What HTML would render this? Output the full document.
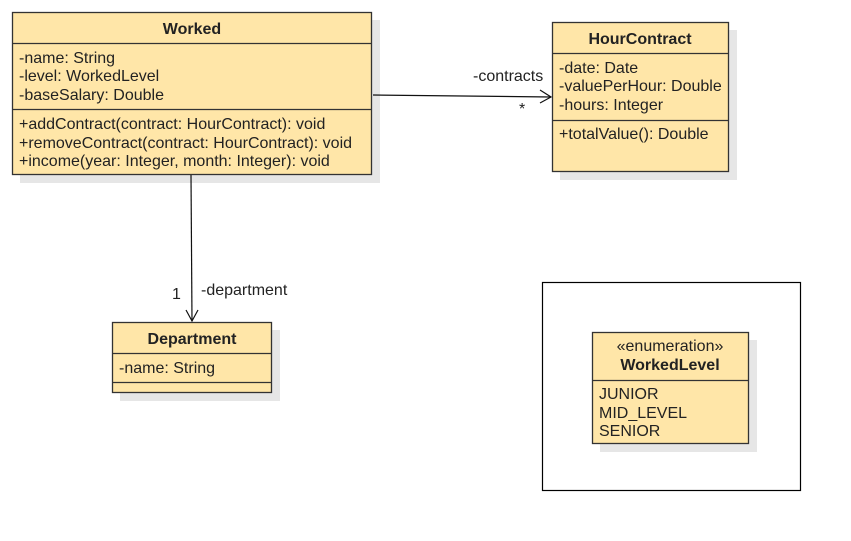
<!DOCTYPE html>
<html><head><style>body{margin:0;background:#fff}svg{display:block}text{font-family:"Liberation Sans",sans-serif;font-size:16px;fill:#222}</style></head><body>
<svg width="851" height="541" xmlns="http://www.w3.org/2000/svg">
<g fill="#e6e6e6">
<rect x="20" y="20" width="360" height="163"/>
<rect x="560" y="30" width="177" height="150"/>
<rect x="120" y="330" width="160" height="71"/>
<rect x="600" y="340" width="157" height="112"/>
</g>
<g fill="#ffe6a8" stroke="#333" stroke-width="1.3">
<rect x="12.5" y="12.5" width="359" height="162"/>
<line x1="12.5" y1="43.5" x2="371.5" y2="43.5"/>
<line x1="12.5" y1="109.5" x2="371.5" y2="109.5"/>
<rect x="552.5" y="22.5" width="176" height="149"/>
<line x1="552.5" y1="53.5" x2="728.5" y2="53.5"/>
<line x1="552.5" y1="120.5" x2="728.5" y2="120.5"/>
<rect x="112.5" y="322.5" width="159" height="70"/>
<line x1="112.5" y1="353.5" x2="271.5" y2="353.5"/>
<line x1="112.5" y1="382.5" x2="271.5" y2="382.5"/>
<rect x="592.5" y="332.5" width="156" height="111"/>
<line x1="592.5" y1="380.5" x2="748.5" y2="380.5"/>
</g>
<rect x="542.5" y="282.5" width="258" height="208" fill="none" stroke="#000" stroke-width="1.2"/>
<g stroke="#111" stroke-width="1.2" fill="none">
<line x1="373" y1="95" x2="551" y2="97"/>
<polyline points="540,90 551,97 540,103"/>
<line x1="191" y1="175" x2="192" y2="321"/>
<polyline points="186,310 192,321 198,310"/>
</g>
<text x="192" y="34" text-anchor="middle" font-weight="bold">Worked</text>
<text x="19" y="63">-name: String</text>
<text x="19" y="81">-level: WorkedLevel</text>
<text x="19" y="100">-baseSalary: Double</text>
<text x="19" y="129">+addContract(contract: HourContract): void</text>
<text x="19" y="148">+removeContract(contract: HourContract): void</text>
<text x="19" y="166">+income(year: Integer, month: Integer): void</text>
<text x="640" y="44" text-anchor="middle" font-weight="bold">HourContract</text>
<text x="559" y="73">-date: Date</text>
<text x="559" y="91">-valuePerHour: Double</text>
<text x="559" y="110">-hours: Integer</text>
<text x="559" y="139">+totalValue(): Double</text>
<text x="192" y="344" text-anchor="middle" font-weight="bold">Department</text>
<text x="119" y="373">-name: String</text>
<text x="670" y="351" text-anchor="middle">«enumeration»</text>
<text x="670" y="370" text-anchor="middle" font-weight="bold">WorkedLevel</text>
<text x="599" y="399">JUNIOR</text>
<text x="599" y="418">MID_LEVEL</text>
<text x="599" y="436">SENIOR</text>
<text x="473" y="81">-contracts</text>
<text x="519" y="114">*</text>
<text x="172" y="299">1</text>
<text x="201" y="295">-department</text>
</svg>
</body></html>
